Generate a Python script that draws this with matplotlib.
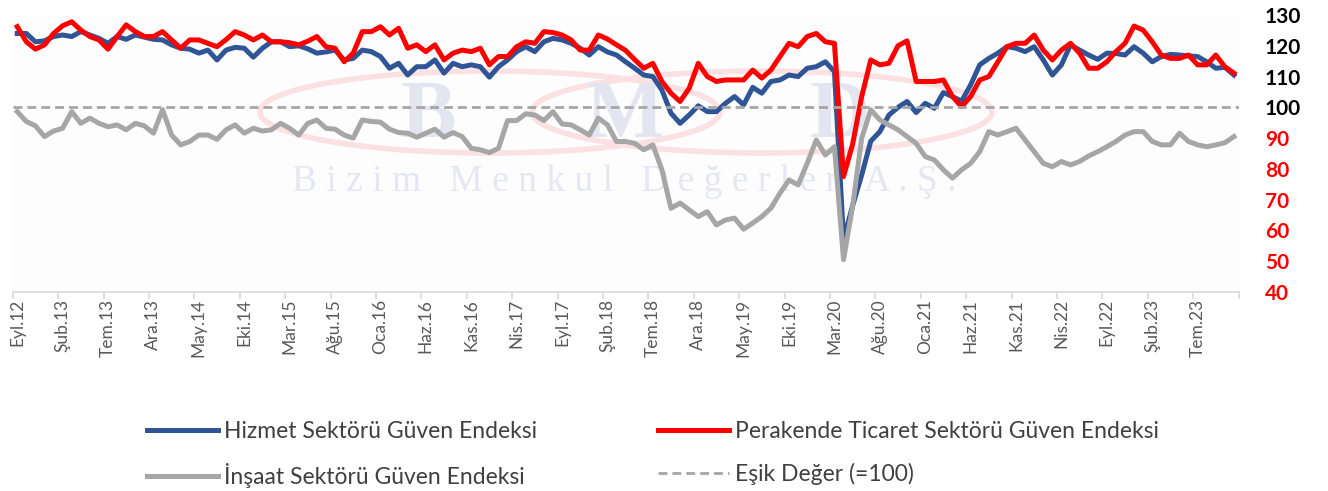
import numpy as np
import matplotlib.pyplot as plt
from matplotlib.patches import Ellipse

# Monthly indices, Sep 2012 - Nov 2023
hizmet = [124.0, 124.0, 121.3, 121.6, 123.0, 123.5, 123.0, 124.6, 123.5, 122.4,
          120.8, 123.0, 122.1, 123.5, 122.8, 122.1, 121.9, 120.3, 119.2, 118.9,
          117.6, 118.6, 115.4, 118.6, 119.5, 119.2, 116.3, 119.2, 121.3, 121.3,
          119.7, 120.0, 119.0, 117.6, 118.0, 118.6, 115.4, 115.9, 118.6, 118.1,
          116.5, 112.7, 114.3, 110.5, 113.2, 113.2, 115.4, 111.1, 114.3, 113.2,
          113.8, 113.2, 109.8, 113.2, 115.4, 118.1, 119.7, 118.1, 121.3, 122.4,
          121.9, 120.8, 119.2, 117.0, 119.7, 118.0, 117.0, 114.8, 112.7, 110.5,
          110.0, 105.6, 98.1, 94.8, 97.5, 100.5, 98.6, 98.6, 101.3, 103.5,
          100.8, 106.5, 104.6, 108.4, 108.9, 110.5, 110.0, 112.7, 113.2, 114.8,
          111.6, 57.0, 68.0, 78.0, 89.0, 92.1, 97.5, 100.0, 101.9, 98.3,
          101.3, 99.7, 104.8, 103.5, 102.0, 107.3, 113.8, 115.9, 117.6, 119.7,
          119.2, 118.1, 119.7, 115.4, 110.5, 113.8, 120.3, 118.6, 117.0, 115.6,
          117.6, 117.5, 117.0, 119.7, 117.6, 114.8, 116.5, 117.2, 117.0, 116.7,
          116.5, 114.8, 112.7, 113.0, 110.5]

perakende = [126.2, 121.3, 118.9, 120.3, 124.0, 126.5, 127.8, 125.1, 123.0, 121.9,
             118.9, 123.0, 126.8, 124.6, 123.0, 123.0, 124.6, 121.9, 119.2, 121.9,
             121.9, 120.8, 119.7, 122.0, 124.6, 123.5, 121.9, 123.5, 121.3, 121.3,
             121.0, 120.3, 121.5, 123.0, 119.7, 119.2, 114.8, 117.6, 124.6, 124.6,
             126.2, 123.5, 125.7, 119.2, 120.3, 118.1, 120.3, 115.4, 117.6, 118.6,
             118.1, 119.2, 113.8, 116.5, 116.5, 119.7, 121.3, 120.8, 124.6, 124.3,
             123.5, 121.9, 118.6, 118.6, 123.5, 122.2, 120.3, 118.5, 115.5, 112.7,
             114.3, 108.4, 104.6, 101.9, 106.2, 114.3, 110.0, 108.4, 108.9, 108.9,
             108.9, 112.1, 109.5, 112.1, 116.5, 120.8, 119.7, 123.0, 124.0, 121.3,
             120.8, 77.5, 88.0, 103.5, 115.4, 113.8, 114.3, 120.0, 121.6, 108.4,
             108.4, 108.4, 108.9, 103.5, 100.2, 103.5, 108.9, 110.0, 114.8, 119.7,
             120.8, 120.8, 123.5, 118.6, 115.4, 118.6, 120.8, 117.6, 112.7, 112.7,
             114.8, 118.1, 120.8, 126.4, 125.1, 121.3, 117.0, 115.9, 115.9, 117.0,
             113.8, 113.8, 117.0, 113.2, 111.1]

insaat = [98.6, 95.4, 94.0, 90.5, 92.3, 93.2, 98.6, 94.8, 96.5, 94.8,
          93.7, 94.3, 92.7, 94.8, 94.0, 91.6, 99.2, 91.0, 87.8, 88.9,
          91.0, 91.0, 89.6, 92.7, 94.3, 91.6, 93.2, 92.3, 92.7, 94.8,
          93.2, 91.0, 94.8, 95.9, 93.2, 92.9, 91.0, 90.0, 95.9, 95.4,
          95.2, 92.9, 91.8, 91.6, 90.3, 91.6, 92.9, 90.3, 91.8, 90.5,
          86.7, 86.2, 85.3, 86.7, 95.7, 95.7, 97.9, 97.5, 95.7, 98.6,
          94.6, 94.3, 92.7, 91.0, 96.5, 94.3, 88.9, 88.9, 88.3, 86.2,
          87.8, 79.7, 67.2, 68.9, 66.7, 64.5, 66.1, 61.8, 63.4, 64.0,
          60.4, 62.4, 64.5, 67.2, 72.1, 76.4, 74.8, 81.8, 89.4, 84.5,
          87.2, 50.5, 67.8, 90.0, 99.2, 95.9, 94.3, 92.7, 90.5, 88.3,
          84.0, 82.9, 79.7, 77.0, 79.7, 81.8, 85.6, 92.1, 91.0, 92.1,
          93.2, 89.4, 85.6, 81.8, 80.7, 82.4, 81.3, 82.4, 84.2, 85.6,
          87.2, 88.9, 91.0, 92.1, 92.1, 88.9, 87.8, 87.8, 91.6, 88.9,
          87.8, 87.2, 87.8, 88.5, 90.5]

esik = 100

tick_labels = ["Eyl.12", "Şub.13", "Tem.13", "Ara.13", "May.14", "Eki.14", "Mar.15",
               "Ağu.15", "Oca.16", "Haz.16", "Kas.16", "Nis.17", "Eyl.17", "Şub.18",
               "Tem.18", "Ara.18", "May.19", "Eki.19", "Mar.20", "Ağu.20", "Oca.21",
               "Haz.21", "Kas.21", "Nis.22", "Eyl.22", "Şub.23", "Tem.23"]

y_ticks = [40, 50, 60, 70, 80, 90, 100, 110, 120, 130]

W, H = 1328, 491
FONT = ['Lato', 'DejaVu Sans']
plt.rcParams['font.family'] = FONT

fig = plt.figure(figsize=(W / 100, H / 100), dpi=100)
ax = fig.add_axes([12.7 / W, 1 - 292 / H, (1238.5 - 12.7) / W, (292 - 15) / H])
ax.set_facecolor('#fdfdfd')

# faint company watermark behind the lines
def fx(px):
    return px / W

def fy(py):
    return 1 - py / H

for cx in (490, 762):
    ax.add_patch(Ellipse((fx(cx), fy(112)), 460 / W, 82 / H, transform=fig.transFigure,
                         fill=False, ec='#fbe1e1', lw=4, zorder=0.2))
for ch, cx in (("B", 428), ("M", 625), ("D", 840)):
    ax.text(fx(cx), fy(137), ch, transform=fig.transFigure, ha='center', va='baseline',
            fontsize=60, family='Liberation Serif', weight='bold', color='#e3e5f1',
            zorder=0.3)
ax.text(fx(624), fy(191), " ".join("Bizim Menkul Değerler A.Ş."), transform=fig.transFigure,
        ha='center', va='baseline', fontsize=27, family='Liberation Serif',
        color='#e5e7f2', zorder=0.3)

x = np.arange(len(hizmet))
l1, = ax.plot(x, hizmet, color='#2F5597', lw=3.6, solid_joinstyle='round', zorder=2)
l2, = ax.plot(x, perakende, color='#FF0000', lw=3.6, solid_joinstyle='round', zorder=3)
l3, = ax.plot(x, insaat, color='#A6A6A6', lw=3.6, solid_joinstyle='round', zorder=4)
l4, = ax.plot([-0.5, len(x) - 0.5], [esik, esik], color='#A6A6A6', lw=2,
              dashes=(3.2, 1.8), zorder=5)

ax.set_xlim(-0.5, len(x) - 0.5)
ax.set_ylim(40, 130)

for s in ('top', 'left', 'right'):
    ax.spines[s].set_visible(False)
ax.spines['bottom'].set_color('#d9d9d9')
ax.spines['bottom'].set_linewidth(1.2)

ax.set_xticks(np.arange(0, len(x), 5))
ax.set_xticklabels(tick_labels, rotation=90, color='#595959', fontsize=12.5)
ax.set_xticks(np.arange(-0.5, len(x), 5), minor=True)
ax.tick_params(axis='x', which='major', length=0, pad=5)
ax.tick_params(axis='x', which='minor', length=5, width=1.2, color='#d9d9d9')

ax.yaxis.tick_right()
ax.set_yticks(y_ticks)
ax.set_yticklabels([str(v) for v in y_ticks], fontsize=15, fontweight='bold')
ax.tick_params(axis='y', length=0, pad=19)
for lab, v in zip(ax.get_yticklabels(), y_ticks):
    lab.set_color('black' if v >= 100 else '#FF0000')
    lab.set_horizontalalignment('left')

fig.legend([l1, l3, l2, l4],
           ["Hizmet Sektörü Güven Endeksi", "İnşaat Sektörü Güven Endeksi",
            "Perakende Ticaret Sektörü Güven Endeksi", "Eşik Değer (=100)"],
           ncol=2, loc='upper left', bbox_to_anchor=(fx(147), fy(421)),
           frameon=False, fontsize=16.5, labelcolor='#404040', borderpad=0,
           borderaxespad=0, handlelength=3.1, handletextpad=0.26,
           columnspacing=5.3, labelspacing=0.93)

fig.savefig('out.png', dpi=100)
